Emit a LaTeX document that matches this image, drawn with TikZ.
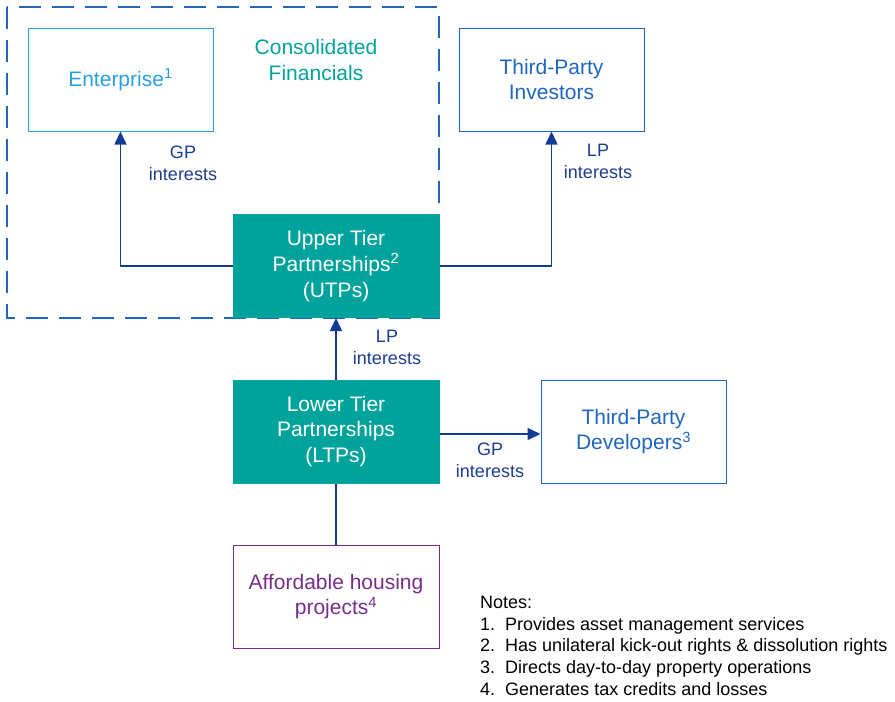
\documentclass[tikz,border=0pt]{standalone}
\usepackage{fontspec}
\setmainfont{Liberation Sans}
\usetikzlibrary{arrows.meta,positioning}
\definecolor{teal1}{HTML}{00A39C}
\definecolor{skyblue}{HTML}{2A9FDF}
\definecolor{midblue}{HTML}{1F66BE}
\definecolor{navy}{HTML}{1C3D8F}
\definecolor{arrowblue}{HTML}{133C96}
\definecolor{plum}{HTML}{7A2C8A}
\tikzset{
  box/.style={draw, line width=1pt, align=center, inner sep=0pt,
    minimum width=185pt, minimum height=103pt,
    font=\fontsize{21}{25.7}\selectfont},
  tier/.style={box, fill=teal1, draw=teal1, text=white, minimum width=206pt},
  lbl/.style={text=navy, align=center, inner sep=0pt,
    font=\fontsize{18}{22}\selectfont},
  link/.style={arrowblue, line width=1.5pt},
  tip/.style={link, -{Triangle[length=13pt,width=12pt]}}
}
\begin{document}
\begin{tikzpicture}[x=1pt,y=-1pt]
    \useasboundingbox (0,0) rectangle (895,702);
    % consolidated frame
    \draw[midblue, line width=1.2pt, dash pattern=on 22pt off 11pt] (7,7) rectangle (439,318);
    \node[text=teal1, align=center, font=\fontsize{21}{25.7}\selectfont] (cons) at (316,60)
      {Consolidated\\Financials};
    \node[box, draw=skyblue, text=skyblue] (ent) at (120.5,79.5) {Enterprise\textsuperscript{1}};
    \node[box, draw=midblue, text=midblue] (inv) at (551.5,79.5) {Third-Party\\Investors};
    \node[tier] (utp) at (336,266) {Upper Tier\\Partnerships\textsuperscript{2}\\(UTPs)};
    \node[tier] (ltp) at (336,431.5) {Lower Tier\\Partnerships\\(LTPs)};
    \node[box, draw=midblue, text=midblue] (dev) at (633.5,431.5) {Third-Party\\Developers\textsuperscript{3}};
    \node[box, draw=plum, text=plum, minimum width=206pt] (ahp) at (336,596.5)
      {Affordable housing\\projects\textsuperscript{4}};
    % connectors
    \draw[tip] (utp.west) -| (ent.south);
    \draw[tip] (utp.east) -| (inv.south);
    \draw[tip] (ltp.north) -- (utp.south);
    \draw[tip] ([yshift=-2.5pt]ltp.east) -- ([yshift=-2.5pt]dev.west);
    \draw[link] (ahp.north) -- (ltp.south);
    % labels
    \node[lbl] (gp1) at (183,163) {GP\\interests};
    \node[lbl] (lp1) at (598,161) {LP\\interests};
    \node[lbl] (lp2) at (387,347) {LP\\interests};
    \node[lbl] (gp2) at (490,460) {GP\\interests};
    % notes
    \node[anchor=north west, align=left, inner sep=0pt,
      font=\fontsize{18}{21.7}\selectfont] (notes) at (480,596)
      {Notes:\\
       1.~~Provides asset management services\\
       2.~~Has unilateral kick-out rights \& dissolution rights\\
       3.~~Directs day-to-day property operations\\
       4.~~Generates tax credits and losses};
\end{tikzpicture}
\end{document}
